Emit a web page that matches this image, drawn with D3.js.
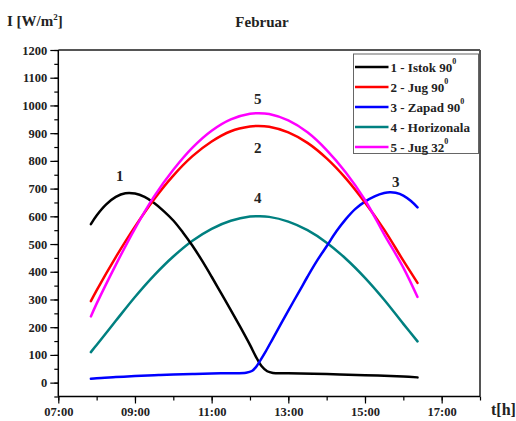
<!DOCTYPE html>
<html><head><meta charset="utf-8">
<script src="https://cdn.jsdelivr.net/npm/d3@7"></script>
<style>
body{margin:0;background:#fff;}
svg text{font-family:"Liberation Serif","Times New Roman",serif;font-weight:bold;fill:#222;}
</style></head>
<body><svg id="c" width="516" height="421"></svg>
<script>
const title = "Februar";
const yLabel = "I [W/m";
const xLabel = "t[h]";
const xTickValues = [7, 9, 11, 13, 15, 17];
const xTickLabels = ["07:00", "09:00", "11:00", "13:00", "15:00", "17:00"];
const yTickValues = [0,100,200,300,400,500,600,700,800,900,1000,1100,1200];

const seriesNames = ["1 - Istok 90", "2 - Jug 90", "3 - Zapad 90", "4 - Horizonala", "5 - Jug 32"];
const seriesSup = ["0", "0", "0", "", "0"];
const seriesColors = ["#000000", "#ff0000", "#0000ff", "#008080", "#ff00ff"];

const istokT = [7.85,8.0,8.25,8.5,8.75,9.0,9.25,9.5,9.75,10.0,10.25,10.5,10.75,11.0,11.25,11.5,11.75,12.0,12.15,12.3,12.45,12.6,13.0,14.0,15.0,15.5,16.0,16.37];
const istokI = [572,603,643,670,683,682,670,648,619,585,542,494,440,382,322,262,200,136,95,60,41,35,34,31,27,25,22,19];

const jugT = [7.85,8.0,8.5,9.0,9.5,10.0,10.5,11.0,11.5,12.0,12.22,12.5,13.0,13.5,14.0,14.5,15.0,15.5,16.0,16.37];
const jugI = [294,333,453,563,662,747,817,870,907,924,926,923,903,865,809,737,650,552,440,360];

const zapadT = [7.85,8.0,8.5,9.0,9.5,10.0,10.5,11.0,11.5,11.9,12.05,12.15,12.25,12.4,12.6,12.8,13.0,13.3,13.5,13.75,14.0,14.25,14.5,14.75,15.0,15.25,15.5,15.65,15.8,16.0,16.2,16.37];
const zapadI = [14,16,20,24,27,29,31,33,34,36,42,55,76,110,160,210,260,333,382,440,492,545,590,627,653,672,684,687,685,675,655,632];

const horT = [7.85,8.0,8.5,9.0,9.5,10.0,10.5,11.0,11.5,12.0,12.22,12.5,13.0,13.5,14.0,14.5,15.0,15.5,16.0,16.37];
const horI = [110,136,223,309,387,455,512,555,584,599,600,598,581,550,505,447,378,299,212,149];

const jug32T = [7.85,8.0,8.5,9.0,9.5,10.0,10.5,11.0,11.5,12.0,12.22,12.5,13.0,13.5,14.0,14.5,15.0,15.5,16.0,16.37];
const jug32I = [239,285,425,556,672,768,848,909,950,970,972,969,946,903,839,758,659,535,415,309];

const curveLabels = ["1", "2", "3", "4", "5"];
const labelT = [8.6, 12.2, 15.8, 12.2, 12.2];
const labelI = [745, 848, 725, 665, 1025];

const seriesT = [istokT, jugT, zapadT, horT, jug32T];
const seriesI = [istokI, jugI, zapadI, horI, jug32I];

const svg = d3.select("#c");
const L = 58.3, R = 480, T = 50, B = 396.5;
const x = d3.scaleLinear().domain([7, 18]).range([L, R]);
const y = d3.scaleLinear().domain([-50, 1200]).range([B, T]);

// frame top/right
svg.append("line").attr("x1", L).attr("x2", R).attr("y1", T).attr("y2", T).attr("stroke", "#555").attr("stroke-width", 2);
svg.append("line").attr("x1", R).attr("x2", R).attr("y1", T).attr("y2", B).attr("stroke", "#555").attr("stroke-width", 2);

// axes
const yAxisMinor = d3.axisLeft(y).tickValues(d3.range(-50, 1201, 50)).tickSize(4).tickFormat("");
const gym = svg.append("g").attr("transform", `translate(${L},0)`).call(yAxisMinor);
gym.select(".domain").remove();
const yAxis = d3.axisLeft(y).tickValues(yTickValues).tickSize(8).tickPadding(3).tickFormat(d3.format("d"));
const gy = svg.append("g").attr("transform", `translate(${L},0)`).call(yAxis);
gy.select(".domain").attr("stroke", "#000").attr("stroke-width", 1.5).attr("d", `M0,${T}V${B}`);
gy.selectAll("text").attr("font-size", 12.5).attr("fill", "#222");

const xAxisMinor = d3.axisBottom(x).tickValues(d3.range(7, 18.01, 1)).tickSize(4).tickFormat("");
const gxm = svg.append("g").attr("transform", `translate(0,${B})`).call(xAxisMinor);
gxm.select(".domain").remove();
const xAxis = d3.axisBottom(x).tickValues(xTickValues).tickSize(7).tickPadding(4).tickFormat((d, i) => xTickLabels[i]);
const gx = svg.append("g").attr("transform", `translate(0,${B})`).call(xAxis);
gx.select(".domain").attr("stroke", "#000").attr("stroke-width", 1.5).attr("d", `M${L},0H${R}`);
gx.selectAll("text").attr("font-size", 12.5).attr("fill", "#222");
svg.selectAll(".tick line").attr("stroke", "#000").attr("stroke-width", 1.2);

// curves
const line = d3.line().x(d => x(d[0])).y(d => y(d[1])).curve(d3.curveCatmullRom.alpha(0.5));
const order = [3, 0, 2, 1, 4];
order.forEach(k => {
  const pts = seriesT[k].map((t, i) => [t, seriesI[k][i]]);
  svg.append("path").attr("d", line(pts)).attr("fill", "none")
    .attr("stroke", seriesColors[k]).attr("stroke-width", 2.5).attr("stroke-linecap", "round");
});

// curve labels
curveLabels.forEach((lab, i) => {
  svg.append("text").attr("x", x(labelT[i])).attr("y", y(labelI[i])).attr("text-anchor", "middle")
    .attr("dominant-baseline", "central").attr("font-size", 15).text(lab);
});

// titles
svg.append("text").attr("x", 262).attr("y", 27).attr("text-anchor", "middle").attr("font-size", 15).text(title);
const yl = svg.append("text").attr("x", 7).attr("y", 26).attr("font-size", 15);
yl.append("tspan").text(yLabel);
yl.append("tspan").attr("dy", -6).attr("font-size", 9).text("2");
yl.append("tspan").attr("dy", 6).text("]");
svg.append("text").attr("x", 491).attr("y", 415).attr("font-size", 16).text(xLabel);

// legend
const lg = svg.append("g");
lg.append("rect").attr("x", 353.5).attr("y", 54).attr("width", 125).attr("height", 99.5)
  .attr("fill", "#fff").attr("stroke", "#666").attr("stroke-width", 1);
seriesNames.forEach((n, i) => {
  const yy = 67 + i * 20;
  lg.append("line").attr("x1", 355).attr("x2", 388.5).attr("y1", yy).attr("y2", yy)
    .attr("stroke", seriesColors[i]).attr("stroke-width", 2.5);
  const t = lg.append("text").attr("x", 390.5).attr("y", yy).attr("dominant-baseline", "central").attr("font-size", 13);
  t.append("tspan").text(n);
  if (seriesSup[i]) t.append("tspan").attr("dy", -6).attr("font-size", 8).text(seriesSup[i]);
});
</script></body></html>
